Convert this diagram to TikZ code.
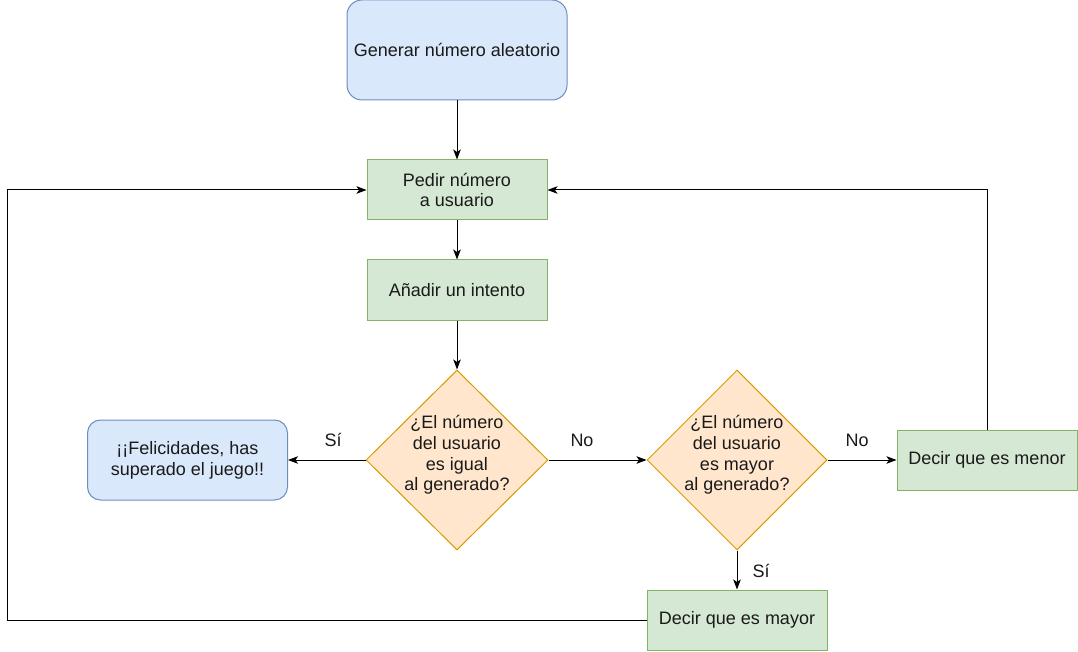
\documentclass[tikz,border=0pt]{standalone}
\usepackage{fontspec}
\setmainfont{Liberation Sans}
\usetikzlibrary{shapes.geometric,arrows.meta}
\definecolor{bfill}{HTML}{DAE8FC}
\definecolor{bline}{HTML}{6C8EBF}
\definecolor{gfill}{HTML}{D5E8D4}
\definecolor{gline}{HTML}{82B366}
\definecolor{ofill}{HTML}{FFE6CC}
\definecolor{oline}{HTML}{D79B00}
\definecolor{txt}{HTML}{1A1A1A}
\tikzset{
  every node/.style={font=\fontsize{18}{20.7}\selectfont, text=txt, align=center, inner sep=0pt},
  bluebox/.style={draw=bline, fill=bfill, line width=1pt, rounded corners=13pt},
  greenbox/.style={draw=gline, fill=gfill, line width=1pt, minimum width=180pt, minimum height=60pt},
  decbox/.style={diamond, draw=oline, fill=ofill, line width=1pt, minimum width=182pt, minimum height=180pt},
  conn/.style={draw=black, line width=1pt, -{Stealth[length=10pt,width=7.5pt,inset=2.5pt]}},
  lbl/.style={fill=none}
}
\begin{document}
\begin{tikzpicture}[x=1pt,y=-1pt]
\useasboundingbox (0,0) rectangle (1078,652);
\node[bluebox, minimum width=220pt, minimum height=100pt, rounded corners=15pt] (gen) at (457,50) {Generar número aleatorio};
\node[greenbox] (pedir) at (457,190) {Pedir número\\a usuario};
\node[greenbox] (anadir) at (457,290) {Añadir un intento};
\node[decbox] (d1) at (457,460) {};
\node at (457,455) {¿El número\\del usuario\\es igual\\al generado?};
\node[decbox, minimum width=180pt] (d2) at (737,460) {};
\node at (737,455) {¿El número\\del usuario\\es mayor\\al generado?};
\node[bluebox, minimum width=200pt, minimum height=80pt] (fel) at (187.5,460) {¡¡Felicidades, has\\superado el juego!!};
\node[greenbox] (menor) at (987,460) {Decir que es menor};
\node[greenbox] (mayor) at (737,620) {Decir que es mayor};
\coordinate (lb) at (7,620);
\coordinate (lt) at (7,190);
\coordinate (rt) at (987,190);
\draw[conn] (gen.south) -- (pedir.north);
\draw[conn] (pedir.south) -- (anadir.north);
\draw[conn] (anadir.south) -- (d1.north);
\draw[conn] (d1.west) -- (fel.east);
\draw[conn] (d1.east) -- (d2.west);
\draw[conn] (d2.east) -- (menor.west);
\draw[conn] (d2.south) -- (mayor.north);
\draw[conn] (mayor.west) -- (lb) -- (lt) -- (pedir.west);
\draw[conn] (menor.north) -- (rt) -- (pedir.east);
\node[lbl] (s1) at (333,440) {Sí};
\node[lbl] (n1) at (582,440) {No};
\node[lbl] (n2) at (857,440) {No};
\node[lbl] (s2) at (761,571) {Sí};
\end{tikzpicture}
\end{document}
